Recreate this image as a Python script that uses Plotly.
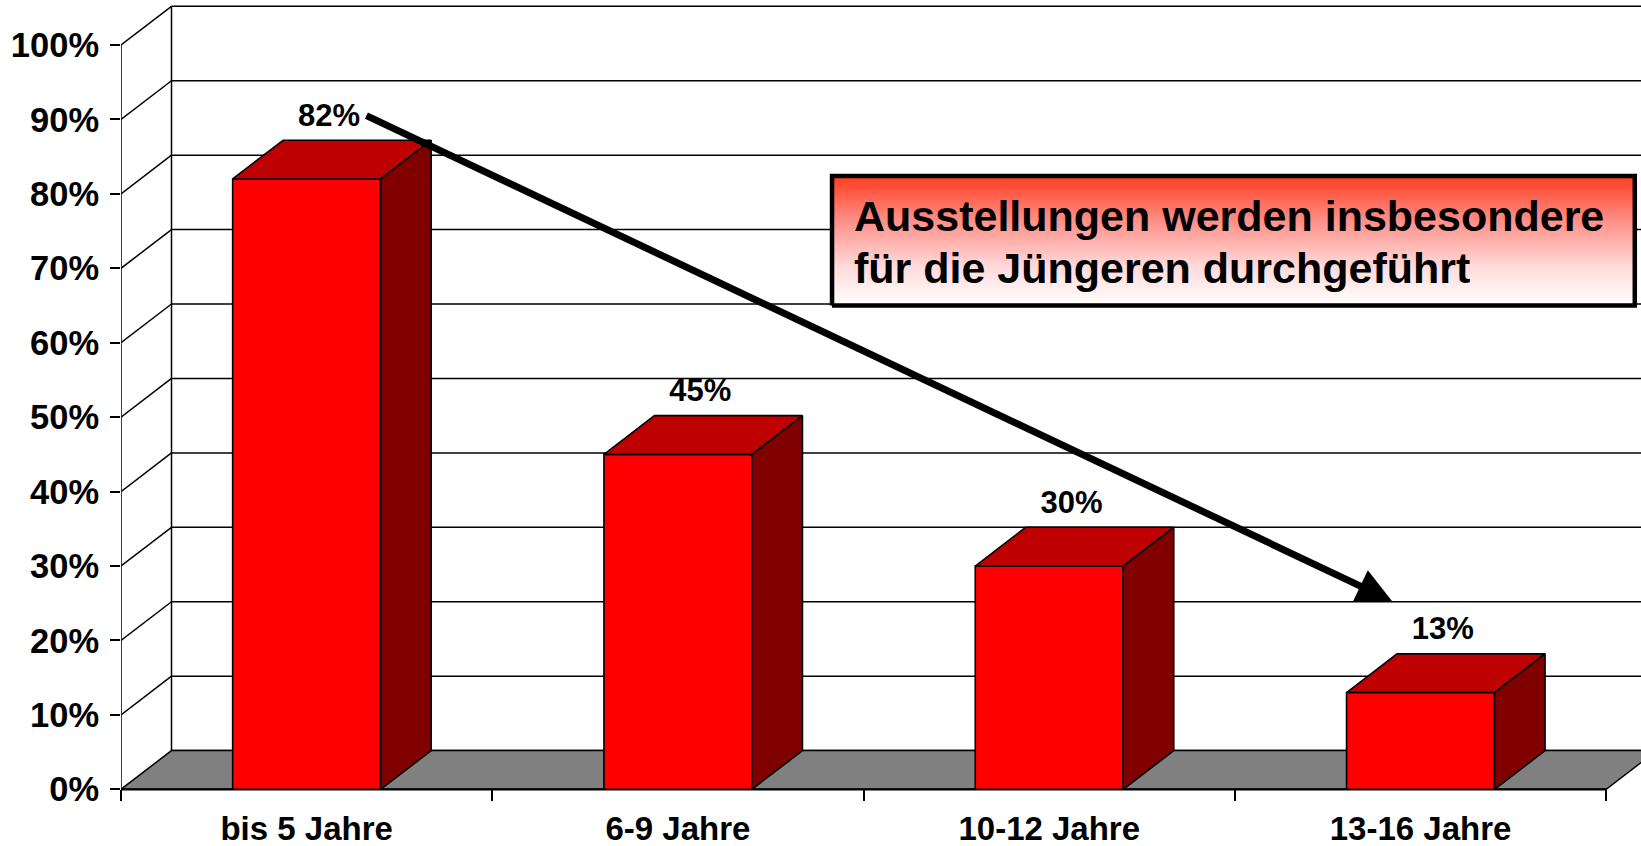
import plotly.graph_objects as go

# ---------------- data ----------------
categories = ["bis 5 Jahre", "6-9 Jahre", "10-12 Jahre", "13-16 Jahre"]
values = [82, 45, 30, 13]
value_labels = ["82%", "45%", "30%", "13%"]
y_ticks = [0, 10, 20, 30, 40, 50, 60, 70, 80, 90, 100]
y_tick_labels = ["0%", "10%", "20%", "30%", "40%", "50%", "60%", "70%", "80%", "90%", "100%"]
note_lines = ["Ausstellungen werden insbesondere", "für die Jüngeren durchgeführt"]

# ---------------- geometry / style ----------------
W, H = 1641, 846
ML = 121                 # left margin (front value axis)
Y0_PX = 789.3            # pixel row of the 0% front edge
PX_X = 371.3             # pixels per category
PX_Y = 7.443             # pixels per percent
DX = 50.5 / PX_X         # 3-D depth offset (x, data units)
DY = 38.7 / PX_Y         # 3-D depth offset (y, data units)
BAR_W = 148 / PX_X       # bar front width (data units)
N = len(categories)

x_range = [-0.5, -0.5 + (W - ML) / PX_X]
y_range = [-(H - Y0_PX) / PX_Y, Y0_PX / PX_Y]
XR = x_range[1] + 0.5
FONT = "Liberation Sans, Arial, sans-serif"

fig = go.Figure()

# ---- walls: gridlines on back wall & side wall ----
gx, gy = [], []
for t in y_ticks:
    gx += [-0.5 + DX, XR, None]
    gy += [t + DY, t + DY, None]
    if t > 0:
        gx += [-0.5, -0.5 + DX, None]
        gy += [t, t + DY, None]
gx += [-0.5 + DX, -0.5 + DX, None, -0.5, -0.5, None]
gy += [DY, y_ticks[-1] + DY, None, 0, y_ticks[-1], None]
fig.add_trace(go.Scatter(x=gx, y=gy, mode="lines", line=dict(color="black", width=1.5),
                         hoverinfo="skip"))

# ---- floor ----
fig.add_trace(go.Scatter(
    x=[-0.5, N - 0.5, N - 0.5 + DX, -0.5 + DX, -0.5],
    y=[0, 0, DY, DY, 0],
    mode="lines", fill="toself", fillcolor="#808080",
    line=dict(color="black", width=1.5), hoverinfo="skip"))
fig.add_trace(go.Scatter(x=[-0.5, N - 0.5], y=[0, 0], mode="lines",
                         line=dict(color="black", width=2.2), hoverinfo="skip"))

# ---- bars ----
fx, fy, tx, ty, sx, sy = [], [], [], [], [], []
for i, v in enumerate(values):
    l, r = i - BAR_W / 2, i + BAR_W / 2
    fx += [l, r, r, l, l, None]
    fy += [0, 0, v, v, 0, None]
    tx += [l, r, r + DX, l + DX, l, None]
    ty += [v, v, v + DY, v + DY, v, None]
    sx += [r, r + DX, r + DX, r, r, None]
    sy += [0, DY, v + DY, v, 0, None]
for xs, ys, col in [(fx, fy, "#FF0000"), (tx, ty, "#BE0000"), (sx, sy, "#800000")]:
    fig.add_trace(go.Scatter(x=xs, y=ys, mode="lines", fill="toself", fillcolor=col,
                             line=dict(color="black", width=1.6), hoverinfo="skip"))

# ---- value labels ----
fig.add_trace(go.Scatter(
    x=[i + 0.06 for i in range(N)],
    y=[v + DY + 3 for v in values],
    mode="text", text=value_labels, textposition="middle center",
    textfont=dict(family=FONT, size=31, color="black", weight="bold"),
    cliponaxis=False, hoverinfo="skip"))

# ---- note box with gradient ----
bx0, bx1, by0, by1 = 1.415, 3.577, 65.0, 82.4
fig.add_trace(go.Scatter(
    x=[bx0, bx1, bx1, bx0, bx0], y=[by0, by0, by1, by1, by0],
    mode="lines", fill="toself",
    fillgradient=dict(type="vertical",
                      colorscale=[[0, "#FFFFFF"], [0.3, "#FFDADA"], [0.65, "#FF9088"], [1, "#FF3C20"]]),
    line=dict(color="black", width=4.5), hoverinfo="skip"))
for txt, yy in zip(note_lines, [77.0, 70.1]):
    fig.add_annotation(x=1.469, y=yy, xref="x", yref="y", text=txt, showarrow=False,
                       xanchor="left", yanchor="middle",
                       font=dict(family=FONT, size=43, color="black", weight="bold"))

# ---- trend arrow ----
fig.add_annotation(x=2.923, y=25.3, ax=0.157, ay=90.6, xref="x", yref="y",
                   axref="x", ayref="y", text="", showarrow=True,
                   arrowhead=2, arrowsize=1.0, arrowwidth=7, arrowcolor="black", standoff=0)

# dummy trace for secondary x axis (boundary ticks)
fig.add_trace(go.Scatter(x=[None], y=[None], xaxis="x2", hoverinfo="skip"))

fig.update_layout(
    width=W, height=H,
    margin=dict(l=ML, r=0, t=0, b=0, pad=0),
    paper_bgcolor="white", plot_bgcolor="white",
    showlegend=False,
    xaxis=dict(range=x_range, anchor="free", position=(H - Y0_PX) / H,
               tickmode="array", tickvals=list(range(N)), ticktext=categories,
               ticks="", showgrid=False, zeroline=False, showline=False,
               tickfont=dict(family=FONT, size=33, color="black", weight="bold"),
               ticklabelstandoff=17, automargin=False, fixedrange=True),
    xaxis2=dict(range=x_range, overlaying="x", anchor="free", position=(H - Y0_PX) / H,
                side="bottom", tickmode="array",
                tickvals=[i - 0.5 for i in range(N + 1)],
                ticks="outside", ticklen=11, tickwidth=1.6, tickcolor="black",
                showticklabels=False, showgrid=False, zeroline=False, showline=False,
                automargin=False),
    yaxis=dict(range=y_range, tickmode="array", tickvals=y_ticks, ticktext=y_tick_labels,
               ticks="outside", ticklen=10, tickwidth=1.6, tickcolor="black",
               showgrid=False, zeroline=False, showline=False,
               tickfont=dict(family=FONT, size=34.5, color="black", weight="bold"),
               ticklabelstandoff=4, automargin=False, fixedrange=True),
)

fig.write_html("out.html", config={"displayModeBar": False},
               post_script="document.body.style.margin='0';document.body.style.overflow='hidden';")
